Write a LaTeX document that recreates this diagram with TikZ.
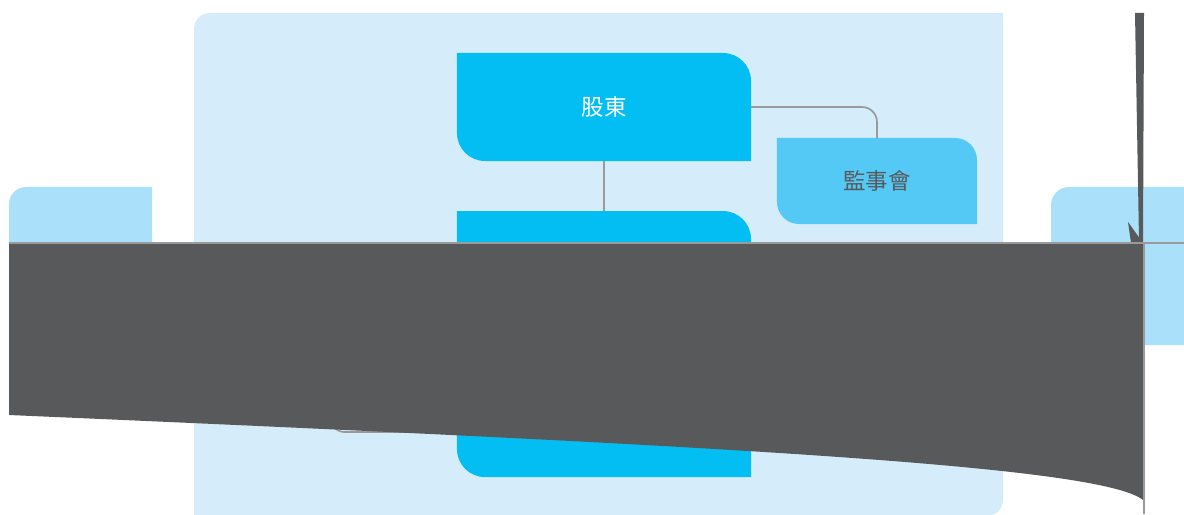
\documentclass[tikz,border=0pt]{standalone}
\usepackage{fontspec}
\newfontfamily\cjkfont{Noto Sans CJK TC}
\usetikzlibrary{positioning}
\pgfdeclarelayer{panel}
\pgfdeclarelayer{box}
\pgfsetlayers{panel,box,main}
\definecolor{panelblue}{HTML}{D5EDFA}
\definecolor{sideblue}{HTML}{AAE0FA}
\definecolor{boxblue}{HTML}{03BEF3}
\definecolor{lightbox}{HTML}{55C9F5}
\definecolor{darkgrey}{HTML}{58595B}
\definecolor{linkgrey}{HTML}{9A9A9A}

\begin{document}
\begin{tikzpicture}[x=0.025cm, y=0.025cm,
        every node/.style={inner sep=0pt, outer sep=0pt, font=\cjkfont\fontsize{16}{19}\selectfont},
        bigbox/.style={minimum width=7.35cm, minimum height=2.7cm, text=white},
        smallbox/.style={minimum width=5cm, minimum height=2.15cm, text=darkgrey},
        link/.style={draw=linkgrey, line width=1.2pt, rounded corners=0.375cm}]
        \useasboundingbox (0,0) rectangle (1184,514);

        \node[bigbox](shareholder) at (604,407) {股東};
        \node[smallbox](supervisor_board) at (877,333) {監事會};
        \node[bigbox, below=1.25cm of shareholder](mid_box) {};
        \node[bigbox, below=1.25cm of mid_box](low_box) {};
        \coordinate (left_link) at (330,160);

        % panels
        \begin{pgfonlayer}{panel}
        \fill[panelblue] (194,-2) -- (194,485) arc[start angle=180, end angle=90, radius=0.4cm]
            -- (1003,501) -- (1003,14) arc[start angle=0, end angle=-90, radius=0.4cm] -- cycle;
        \fill[sideblue] (9,169) -- (9,310) arc[start angle=180, end angle=90, radius=0.425cm]
            -- (152,327) -- (152,169) -- cycle;
        \fill[sideblue] (1190,327) -- (1069,327) arc[start angle=90, end angle=180, radius=0.45cm]
            -- (1051,187) arc[start angle=180, end angle=270, radius=0.45cm] -- (1190,169) -- cycle;
        \end{pgfonlayer}

        % boxes
        \begin{pgfonlayer}{box}
        \fill[boxblue] (shareholder.north west) -- ([xshift=-0.7cm]shareholder.north east)
            arc[start angle=90, end angle=0, radius=0.7cm] -- (shareholder.south east)
            -- ([xshift=0.7cm]shareholder.south west) arc[start angle=270, end angle=180, radius=0.7cm] -- cycle;
        \fill[boxblue] (mid_box.north west) -- ([xshift=-0.7cm]mid_box.north east)
            arc[start angle=90, end angle=0, radius=0.7cm] -- (mid_box.south east)
            -- ([xshift=0.7cm]mid_box.south west) arc[start angle=270, end angle=180, radius=0.7cm] -- cycle;
        \fill[boxblue] (low_box.north west) -- ([xshift=-0.7cm]low_box.north east)
            arc[start angle=90, end angle=0, radius=0.7cm] -- (low_box.south east)
            -- ([xshift=0.7cm]low_box.south west) arc[start angle=270, end angle=180, radius=0.7cm] -- cycle;
        \fill[lightbox] (supervisor_board.north west) -- ([xshift=-0.55cm]supervisor_board.north east)
            arc[start angle=90, end angle=0, radius=0.55cm] -- (supervisor_board.south east)
            -- ([xshift=0.55cm]supervisor_board.south west) arc[start angle=270, end angle=180, radius=0.55cm] -- cycle;
        \end{pgfonlayer}

        \draw[link] (shareholder.east) -| (supervisor_board.north);
        \draw[link] (shareholder.south) -- (mid_box.north);
        \draw[link] (left_link) |- ([yshift=-0.225cm]low_box.west);

        % dark overlay
        \fill[darkgrey] (9,271) -- (1143,271) -- (1143,14) .. controls (1100,49) and (700,69) .. (9,99) -- cycle;
        \fill[darkgrey] (1135,501) -- (1144,501) -- (1143,271) -- (1139,274) -- cycle;
        \fill[darkgrey] (1128,292) -- (1143,271) -- (1131,271) -- cycle;
        \draw[linkgrey, line width=0.8pt] (9,271) -- (1184,271) (1144,271) -- (1144,0);
\end{tikzpicture}
\end{document}
